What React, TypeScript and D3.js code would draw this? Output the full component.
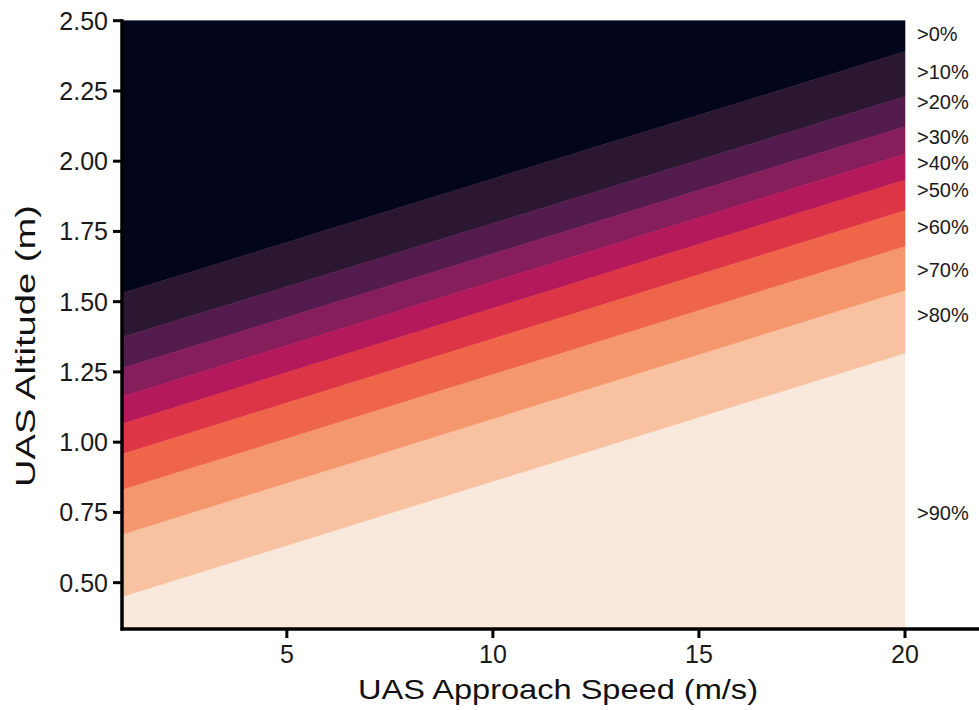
import React from 'react';
import * as d3 from 'd3';

// speed (m/s) on x, altitude (m) on y
const speedRange: [number, number] = [1, 20];
const altitudeRange: [number, number] = [0.335, 2.5];
const xTicks = [5, 10, 15, 20];
const yTicks = [0.5, 0.75, 1.0, 1.25, 1.5, 1.75, 2.0, 2.25, 2.5];

const bandLabels = ['>0%', '>10%', '>20%', '>30%', '>40%', '>50%', '>60%', '>70%', '>80%', '>90%'];
const bandColors = [
  '#03051a', '#2c1733', '#541c4e', '#861e5b', '#b3195b',
  '#dd3446', '#ef6549', '#f4976c', '#f8c1a2', '#f9e9dc',
];
// contour boundaries: altitude at speed 1 and at speed 20
const boundaryAtMin = [1.530, 1.373, 1.263, 1.162, 1.065, 0.957, 0.830, 0.670, 0.448];
const boundaryAtMax = [2.390, 2.230, 2.123, 2.026, 1.933, 1.824, 1.696, 1.539, 1.315];
// where each label sits (altitude)
const labelAltitude = [2.455, 2.318, 2.212, 2.087, 1.994, 1.898, 1.767, 1.613, 1.453, 0.749];

const W = 979;
const H = 710;
const left = 122;
const right = 905;
const top = 20.7;
const bottom = 629;

type Pt = { s: number; hi: number; lo: number };

const App: React.FC = () => {
  const x = d3.scaleLinear().domain(speedRange).range([left, right]);
  const y = d3.scaleLinear().domain(altitudeRange).range([bottom, top]);

  const area = d3.area<Pt>()
    .x(d => x(d.s))
    .y0(d => y(d.lo))
    .y1(d => y(d.hi));

  const bands = bandColors.map((color, i) => {
    const hiA = i === 0 ? altitudeRange[1] : boundaryAtMin[i - 1];
    const hiB = i === 0 ? altitudeRange[1] : boundaryAtMax[i - 1];
    const loA = i === bandColors.length - 1 ? altitudeRange[0] : boundaryAtMin[i];
    const loB = i === bandColors.length - 1 ? altitudeRange[0] : boundaryAtMax[i];
    const pts: Pt[] = [
      { s: speedRange[0], hi: hiA, lo: loA },
      { s: speedRange[1], hi: hiB, lo: loB },
    ];
    return { color, d: area(pts) || '' };
  });

  const font = '"Liberation Sans", Arial, sans-serif';

  return (
    <svg
      width={W}
      height={H}
      style={{ position: 'absolute', left: 0, top: 0, background: '#fff' }}
      fontFamily={font}
    >
      {bands.map((b, i) => (
        <path key={i} d={b.d} fill={b.color} stroke={b.color} strokeWidth={0.6} />
      ))}

      {/* y axis */}
      <line x1={left} x2={left} y1={top - 1.5} y2={bottom + 1.5} stroke="#000" strokeWidth={3.5} />
      {yTicks.map(t => (
        <g key={t} transform={`translate(0,${y(t)})`}>
          <line x1={left - 9} x2={left} stroke="#000" strokeWidth={3} />
          <text x={left - 14} dy="0.36em" textAnchor="end" fontSize={25} fill="#1a1a1a">
            {d3.format('.2f')(t)}
          </text>
        </g>
      ))}

      {/* x axis */}
      <line x1={left - 1.5} x2={W} y1={bottom} y2={bottom} stroke="#000" strokeWidth={3.5} />
      {xTicks.map(t => (
        <g key={t} transform={`translate(${x(t)},0)`}>
          <line y1={bottom} y2={bottom + 9} stroke="#000" strokeWidth={3} />
          <text y={663} textAnchor="middle" fontSize={25} fill="#1a1a1a">
            {t}
          </text>
        </g>
      ))}

      {/* band labels */}
      {bandLabels.map((l, i) => (
        <text key={l} x={917} y={y(labelAltitude[i])} dy="0.36em" fontSize={20} fill="#1a1a1a">
          {l}
        </text>
      ))}

      {/* titles */}
      <text
        x={558}
        y={699}
        textAnchor="middle"
        fontSize={28}
        fill="#111"
        textLength={400}
        lengthAdjust="spacingAndGlyphs"
      >
        UAS Approach Speed (m/s)
      </text>
      <text
        transform="translate(35,346) rotate(-90)"
        textAnchor="middle"
        fontSize={28}
        fill="#111"
        textLength={282}
        lengthAdjust="spacingAndGlyphs"
      >
        UAS Altitude (m)
      </text>
    </svg>
  );
};

export default App;
